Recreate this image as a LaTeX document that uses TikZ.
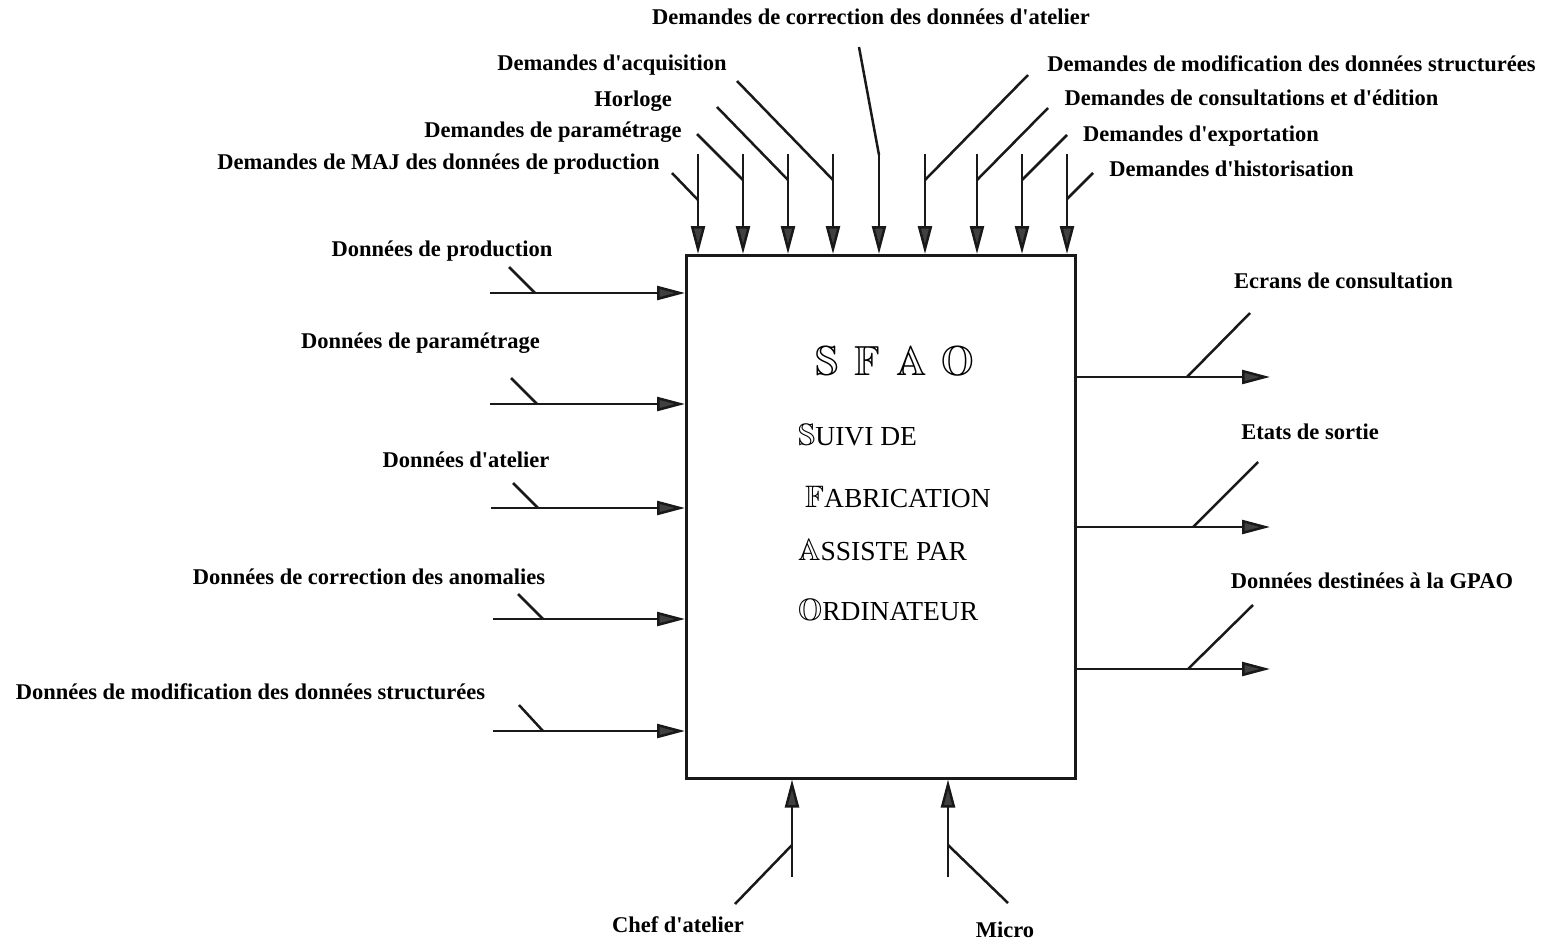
\documentclass[tikz,border=0pt]{standalone}
\usepackage{amssymb}
\usepackage{fontspec}
\setmainfont{Liberation Serif}[Ligatures=TeXOff]
\usetikzlibrary{arrows.meta}
\tikzset{
  ln/.style={line width=2.5pt, draw=black!90},
  arr/.style={ln, -{Triangle[length=28pt,width=14pt,fill=black!75]}},
  lbl/.style={font=\bfseries\fontsize{22.5}{26}\selectfont, inner sep=0pt, anchor=base},
  boxtxt/.style={font=\fontsize{27.5}{32}\selectfont, inner sep=0pt, anchor=base west},
  bbl/.style={font=\fontsize{42}{46}\selectfont, inner sep=0pt, anchor=base},
}
\newcommand{\bbi}[1]{{\fontsize{31}{34}\selectfont$\mathbb{#1}$}}
\begin{document}
\begin{tikzpicture}[x=1pt,y=-1pt]
\useasboundingbox (0,0) rectangle (1545,943);
\node[ln, draw, minimum width=389pt, minimum height=523pt, anchor=north west, inner sep=0pt] (box) at (685,254) {};

% center text
\node[bbl] (s1) at (827,375) {$\mathbb{S}$};
\node[bbl] (s2) at (867,375) {$\mathbb{F}$};
\node[bbl] (s3) at (912,375) {$\mathbb{A}$};
\node[bbl] (s4) at (958,375) {$\mathbb{O}$};
\node[boxtxt] (l1) at (798,445) {\bbi{S}UIVI DE};
\node[boxtxt] (l2) at (805,507) {\bbi{F}ABRICATION};
\node[boxtxt] (l3) at (798,560) {\bbi{A}SSISTE PAR};
\node[boxtxt] (l4) at (798,620) {\bbi{O}RDINATEUR};

% top arrows
\foreach \i/\x/\y/\ex/\ey in {1/698/200/672/173, 2/743/180/697/134, 3/788/180/717/107, 4/833/180/737/81,
  6/925/180/1028/75, 7/977/180/1048/108, 8/1022/180/1067/135, 9/1067/199/1093/173}{
  \coordinate (t\i) at (\x,154);
  \coordinate (tb\i) at (\x,\y);
  \coordinate (te\i) at (\ex,\ey);
  \draw[arr] (t\i) -- (t\i |- box.north);
  \draw[ln] (te\i) -- (tb\i);
}
\coordinate (t5) at (879,155);
\coordinate (te5) at (859,47);
\draw[ln] (te5) -- (t5);
\draw[arr] (t5) -- (t5 |- box.north);

% left arrows
\foreach \i/\x/\y/\dx/\dy/\bx in {1/490/293/509/267/535, 2/490/404/511/378/537, 3/491/508/513/483/538, 4/493/619/518/594/543, 5/493/731/519/705/543}{
  \coordinate (l\i) at (\x,\y);
  \coordinate (lb\i) at (\bx,\y);
  \coordinate (le\i) at (\dx,\dy);
  \draw[arr] (l\i) -- (l\i -| box.west);
  \draw[ln] (le\i) -- (lb\i);
}

% right arrows
\foreach \i/\y/\bx/\ex/\ey in {1/377/1187/1250/313, 2/527/1193/1258/462, 3/669/1188/1253/605}{
  \coordinate (r\i) at (1270,\y);
  \coordinate (rb\i) at (\bx,\y);
  \coordinate (re\i) at (\ex,\ey);
  \draw[arr] (r\i -| box.east) -- (r\i);
  \draw[ln] (re\i) -- (rb\i);
}

% bottom arrows
\foreach \i/\x/\ex/\ey in {1/792/735/904, 2/948/1008/903}{
  \coordinate (b\i) at (\x,877);
  \coordinate (bb\i) at (\x,845);
  \coordinate (be\i) at (\ex,\ey);
  \draw[arr] (b\i) -- (b\i |- box.south);
  \draw[ln] (be\i) -- (bb\i);
}

% labels
\node[lbl] (Lcorr) at (871,24) {Demandes de correction des données d'atelier};
\node[lbl] (Lacq) at (612,70) {Demandes d'acquisition};
\node[lbl] (Lhor) at (633,106) {Horloge};
\node[lbl] (Lpar) at (553,137) {Demandes de paramétrage};
\node[lbl] (Lmaj) at (438.5,169) {Demandes de MAJ des données de production};
\node[lbl] (Lmod) at (1291.5,71) {Demandes de modification des données structurées};
\node[lbl] (Lcons) at (1251.5,105) {Demandes de consultations et d'édition};
\node[lbl] (Lexp) at (1201,141) {Demandes d'exportation};
\node[lbl] (Lhis) at (1231.5,176) {Demandes d'historisation};
\node[lbl] (Ldprod) at (442,256) {Données de production};
\node[lbl] (Ldpar) at (420.5,348) {Données de paramétrage};
\node[lbl] (Ldat) at (466,467) {Données d'atelier};
\node[lbl] (Ldcor) at (369,584) {Données de correction des anomalies};
\node[lbl] (Ldmod) at (250.5,699) {Données de modification des données structurées};
\node[lbl] (Lecr) at (1343.5,288) {Ecrans de consultation};
\node[lbl] (Leta) at (1310,439) {Etats de sortie};
\node[lbl] (Lgpao) at (1372,588) {Données destinées à la GPAO};
\node[lbl] (Lchef) at (678,932) {Chef d'atelier};
\node[lbl] (Lmic) at (1005,937) {Micro};
\end{tikzpicture}
\end{document}
